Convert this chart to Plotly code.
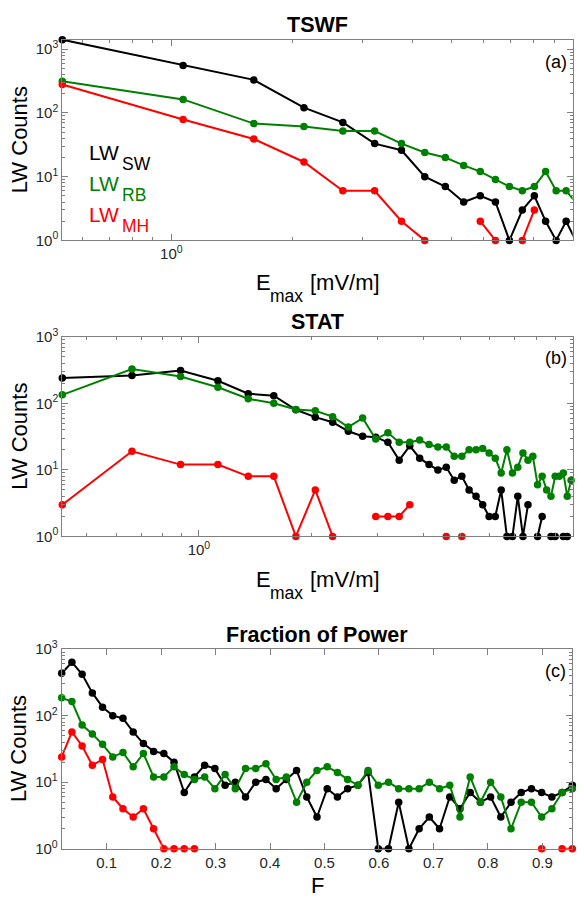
import math
import plotly.graph_objects as go

# ---------------- TSWF: LW counts per E_max bin ----------------
emax_tswf = [0.535, 1.07, 1.605, 2.14, 2.675, 3.21, 3.745, 4.28, 4.815, 5.35,
             5.885, 6.42, 6.955, 7.49, 8.025, 8.56, 9.095, 9.63, 10.165]
sw_tswf = [1410, 555, 330, 121, 71, 33, 26, 10, 7, 4, 5, 4, 1, 3, 5, 2, 1, 2, 1]
rb_tswf = [315, 163, 68, 61, 52, 52, 33, 24, 20, 15, 12, 9, 7, 6, 7, 12, 6, 6, 4]
mh_tswf = [280, 79, 39, 17, 6, 6, 2, 1, 0, 0, 2, 1, 0, 1, 3, 0, 0, 0, 0]

# ---------------- STAT: LW counts per E_max bin ----------------
emax_stat = [0.431, 0.662, 0.893, 1.124, 1.355, 1.586, 1.817, 2.048, 2.279, 2.51,
             2.741, 2.972, 3.203, 3.434, 3.665, 3.896, 4.127, 4.358, 4.589, 4.82,
             5.051, 5.282, 5.513, 5.744, 5.975, 6.206, 6.437, 6.668, 6.899, 7.13,
             7.361, 7.592, 7.823, 8.054, 8.285, 8.516, 8.747, 8.978, 9.209, 9.44,
             9.671, 9.902, 10.133]
sw_stat = [239, 261, 310, 218, 139, 130, 80, 62, 52, 38,
           32, 31, 26, 14, 23, 15, 12, 10, 11, 7,
           8, 5, 4, 3, 2, 2, 5, 1, 1, 4,
           1, 3, 0, 1, 2, 0, 1, 1, 0, 1,
           1, 0, 0]
rb_stat = [134, 327, 253, 174, 117, 100, 81, 77, 63, 44,
           60, 29, 36, 26, 26, 28, 24, 22, 22, 16,
           16, 20, 20, 21, 18, 15, 9, 20, 9, 11,
           18, 14, 16, 6, 8, 5, 4, 8, 8, 9,
           4, 7, 7]
mh_stat = [3, 19, 12, 12, 8, 8, 1, 5, 1, 0,
           0, 2, 2, 2, 3, 0, 0, 0, 1, 0,
           1, 0, 0, 0, 0, 0, 0, 0, 0, 0,
           0, 0, 0, 0, 0, 0, 0, 0, 0, 0,
           0, 0, 0]

# ---------------- Fraction of power: LW counts per F bin ----------------
frac = [0.0175, 0.03625, 0.055, 0.07375, 0.0925, 0.11125, 0.13, 0.14875, 0.1675, 0.18625,
        0.205, 0.22375, 0.2425, 0.26125, 0.28, 0.29875, 0.3175, 0.33625, 0.355, 0.37375,
        0.3925, 0.41125, 0.43, 0.44875, 0.4675, 0.48625, 0.505, 0.52375, 0.5425, 0.56125,
        0.58, 0.59875, 0.6175, 0.63625, 0.655, 0.67375, 0.6925, 0.71125, 0.73, 0.74875,
        0.7675, 0.78625, 0.805, 0.82375, 0.8425, 0.86125, 0.88, 0.89875, 0.9175, 0.93625,
        0.955]
sw_frac = [432, 634, 417, 219, 134, 100, 91, 57, 38, 29,
           27, 20, 7, 12, 18, 16, 9, 10, 6, 10,
           11, 8, 11, 15, 6, 3, 8, 6, 8, 9,
           14, 1, 1, 5, 1, 2, 3, 2, 6, 4,
           7, 5, 6, 3, 5, 7, 8, 7, 6, 7,
           9]
rb_frac = [185, 163, 72, 53, 37, 24, 28, 17, 27, 12,
           12, 17, 13, 11, 12, 8, 13, 8, 16, 16,
           19, 11, 12, 5, 10, 15, 17, 14, 11, 9,
           15, 9, 10, 8, 8, 8, 10, 8, 9, 3,
           12, 5, 10, 6, 2, 5, 5, 3, 4, 7,
           8]
mh_frac = [24, 57, 35, 18, 22, 6, 4, 3, 4, 2,
           1, 1, 1, 1, 0, 0, 0, 0, 0, 0,
           0, 0, 0, 0, 0, 0, 0, 0, 0, 0,
           0, 0, 0, 0, 0, 0, 0, 0, 0, 0,
           0, 0, 0, 0, 0, 0, 0, 1, 0, 1,
           1]

titles = ["TSWF", "STAT", "Fraction of Power"]
letters = ["(a)", "(b)", "(c)"]
series_names = ["SW", "RB", "MH"]

BLACK, GREEN, RED = "#000000", "#008000", "#ff0000"
AXIS = "#7f7f7f"
TEXT = "#262626"
FONT = "Liberation Sans, Arial, Helvetica, sans-serif"
W, H = 584, 907


def fx(p):
    return p / W


def fy(p):
    return 1 - p / H


def positive(vals):
    # empty bins cannot be shown on a log axis
    return [v if v > 0 else None for v in vals]


def log_minor(lo, hi):
    # 2..9 x 10^e ticks that fall inside [10^lo, 10^hi]
    out = []
    for e in range(math.floor(lo), math.ceil(hi)):
        for d in range(2, 10):
            v = d * 10 ** e
            if 10 ** lo <= v <= 10 ** hi:
                out.append(v)
    return out


def sup_label(e):
    return "10<sup>%d</sup>" % e


fig = go.Figure()

panels = [
    (emax_tswf, [sw_tswf, rb_tswf, mh_tswf]),
    (emax_stat, [sw_stat, rb_stat, mh_stat]),
    (frac, [sw_frac, rb_frac, mh_frac]),
]
colors = [BLACK, GREEN, RED]

for i, (xv, ys) in enumerate(panels):
    sfx = "" if i == 0 else str(i + 1)
    for yv, c, nm in zip(ys, colors, series_names):
        fig.add_trace(go.Scatter(
            x=xv, y=positive(yv), name="LW" + nm, mode="lines+markers",
            line=dict(color=c, width=2), marker=dict(color=c, size=7.5),
            connectgaps=False, cliponaxis=False, showlegend=False,
            xaxis="x" + sfx, yaxis="y" + sfx))

# plot-area boxes (pixels): left, right, top, bottom
boxes = [(62.3, 572.7, 29.3, 234.3), (62.3, 572.7, 332.7, 536.7), (61.7, 572.3, 651.7, 855.7)]

common = dict(showline=True, linecolor=AXIS, linewidth=1, mirror="ticks",
              ticks="inside", ticklen=6, tickcolor=AXIS, tickwidth=1,
              showgrid=False, zeroline=False,
              tickfont=dict(family=FONT, size=15, color=TEXT))

layout_axes = {}
for i, (l, r, t, b) in enumerate(boxes):
    sfx = "" if i == 0 else str(i + 1)
    xv, ys = panels[i]
    xa = dict(common, domain=[fx(l), fx(r)], anchor="y" + sfx)
    if i < 2:
        xlo = math.log10(xv[0])
        xa.update(type="log", range=[xlo, 1],
                  tickmode="array", tickvals=[1, 10], ticktext=[sup_label(0), sup_label(1)],
                  minor=dict(tickmode="array", tickvals=log_minor(xlo, 1),
                             ticks="inside", ticklen=3, tickcolor=AXIS, showgrid=False))
    else:
        xa.update(type="linear", range=[xv[0], xv[-1]],
                  tickmode="array", tickvals=[0.1 * k for k in range(1, 10)],
                  ticktext=["%.1f" % (0.1 * k) for k in range(1, 10)])
    ytop = math.log10(max(ys[0])) if i == 0 else 3
    ya = dict(common, domain=[fy(b), fy(t)], anchor="x" + sfx, type="log",
              range=[0, ytop], tickmode="array", tickvals=[1, 10, 100, 1000],
              ticktext=[sup_label(e) for e in range(4)],
              minor=dict(tickmode="array", tickvals=log_minor(0, ytop),
                         ticks="inside", ticklen=3, tickcolor=AXIS, showgrid=False))
    layout_axes["xaxis" + sfx] = xa
    layout_axes["yaxis" + sfx] = ya


def note(text, x, y, size, color="#000000", xanchor="center", angle=0):
    return dict(text=text, x=fx(x), y=fy(y), xref="paper", yref="paper",
                xanchor=xanchor, yanchor="middle", showarrow=False, textangle=angle,
                borderpad=0, font=dict(family=FONT, size=size, color=color))


ann = []
title_y = [14.2, 317.5, 637.0]
letter_y = [51.7, 354.2, 674.2]
for i, (l, r, t, b) in enumerate(boxes):
    cx = (l + r) / 2
    ann.append(note("<b>%s</b>" % titles[i], cx, title_y[i], 21.5))
    ann.append(note("LW Counts", 19.2, (t + b) / 2, 22, angle=-90))
    ann.append(note(letters[i], 555.8, letter_y[i], 18))

# x-axis labels with lowered subscript
for dy in (0, 303.4):
    ann.append(note("E", 255, 277.4 + dy, 22, xanchor="left"))
    ann.append(note("max", 268.5, 290.9 + dy, 17.5, xanchor="left"))
    ann.append(note("[mV/m]", 309, 277.4 + dy, 22, xanchor="left"))
ann.append(note("F", 317.0, 893.3, 22))

# series key
key_y = [144.4, 176.0, 207.7]
for nm, c, yk in zip(series_names, colors, key_y):
    ann.append(note("LW", 88.3, yk, 21, color=c, xanchor="left"))
    ann.append(note(nm, 121.0, yk + 11.5, 17.5, color=c, xanchor="left"))

fig.update_layout(
    width=W, height=H, margin=dict(l=0, r=0, t=0, b=0),
    paper_bgcolor="white", plot_bgcolor="white",
    font=dict(family=FONT, color=TEXT),
    annotations=ann, **layout_axes)

fig.write_html("out.html")
